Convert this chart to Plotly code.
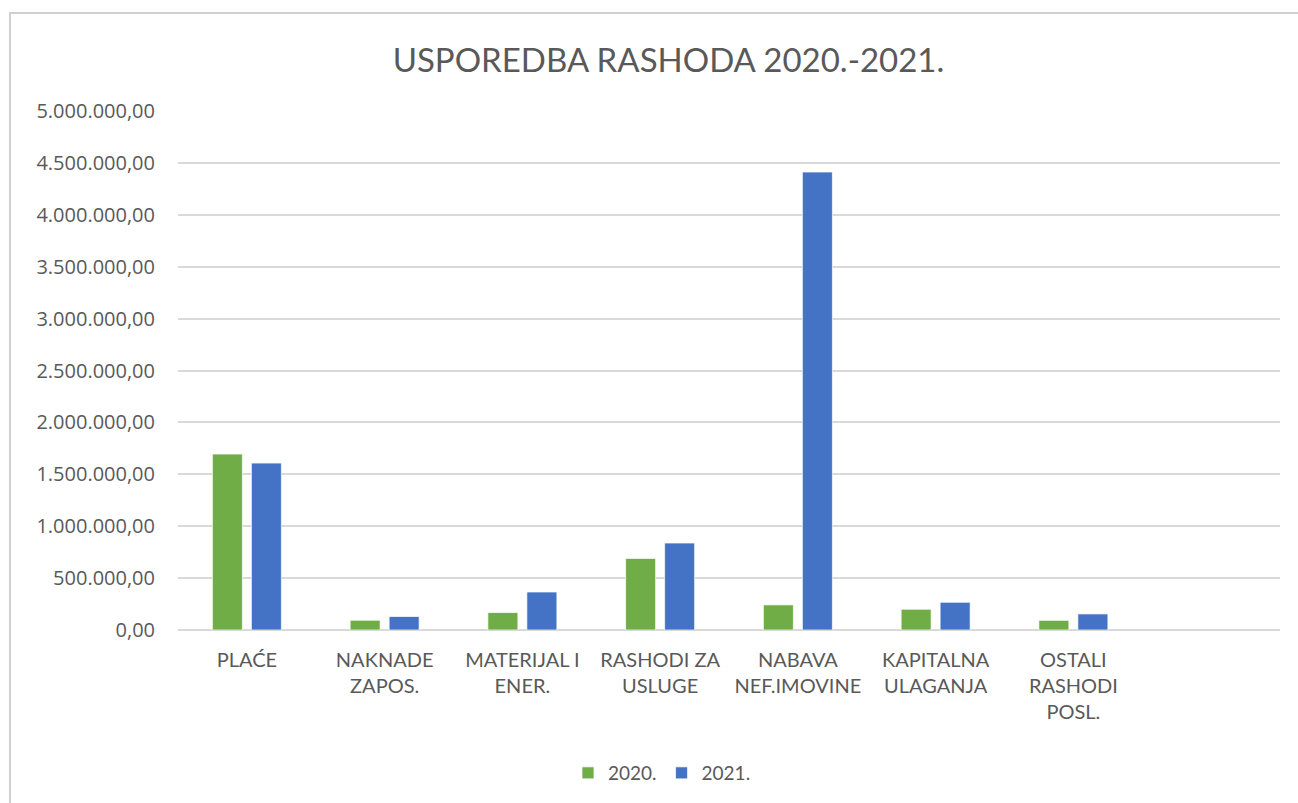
import plotly.graph_objects as go

categories = ["PLAĆE", "NAKNADE<br>ZAPOS.", "MATERIJAL I<br>ENER.", "RASHODI ZA<br>USLUGE",
              "NABAVA<br>NEF.IMOVINE", "KAPITALNA<br>ULAGANJA", "OSTALI<br>RASHODI<br>POSL."]
values_2020 = [1695000, 94000, 168000, 690000, 242000, 200000, 93000]
values_2021 = [1608000, 130000, 366000, 838000, 4412000, 267000, 155000]
series_names = ["2020.", "2021."]
y_ticks = [0, 500000, 1000000, 1500000, 2000000, 2500000, 3000000, 3500000, 4000000, 4500000, 5000000]

W, H = 1298, 803
L, R, T, B = 178, 18, 111, 173
pw = W - L - R
ph = H - T - B

FONT = "Lato"
TICKFONT = "Open Sans"
GREY = "#595959"

fig = go.Figure()
fig.add_trace(go.Bar(x=categories, y=values_2020, name=series_names[0],
                     marker=dict(color="#70AD47", line=dict(color="rgba(255,255,255,0.7)", width=1))))
fig.add_trace(go.Bar(x=categories, y=values_2021, name=series_names[1],
                     marker=dict(color="#4472C4", line=dict(color="rgba(255,255,255,0.7)", width=1))))

def px2paper_x(px):
    return (px - L) / pw

def px2paper_y(py):
    return (H - B - py) / ph

fig.update_layout(
    width=W, height=H,
    margin=dict(l=L, r=R, t=T, b=B, autoexpand=False),
    paper_bgcolor="white", plot_bgcolor="white",
    separators=",.",
    font=dict(family=FONT, color=GREY, size=20),
    title=dict(text="USPOREDBA RASHODA 2020.-2021.", x=0.515, xanchor="center", xref="container",
               y=1 - 60 / H, yanchor="middle", yref="container",
               font=dict(family=FONT, size=33, color=GREY)),
    barmode="group", bargap=0.434, bargroupgap=0.23,
    showlegend=True,
    legend=dict(orientation="h", xref="container", x=0.510, xanchor="center",
                yref="container", y=1 - 773 / H, yanchor="middle",
                font=dict(family=FONT, size=19, color=GREY), itemwidth=30,
                traceorder="normal"),
    xaxis=dict(range=[-0.5, 7.5], showgrid=False, showline=False, ticks="",
               tickfont=dict(family=FONT, size=20, color=GREY), ticklabelstandoff=16,
               fixedrange=True),
    yaxis=dict(range=[0, 5000000], tickvals=y_ticks, tickformat=",.2f",
               showgrid=True, gridcolor="#D9D9D9", gridwidth=2,
               zeroline=True, zerolinecolor="#D9D9D9", zerolinewidth=2,
               showline=False, ticks="", ticklabelstandoff=22,
               tickfont=dict(family=TICKFONT, size=20, color=GREY), fixedrange=True),
    shapes=[dict(type="rect", xref="paper", yref="paper",
                 x0=px2paper_x(10), x1=px2paper_x(1310),
                 y0=px2paper_y(815), y1=px2paper_y(13),
                 line=dict(color="#D0D0D0", width=2), fillcolor="rgba(0,0,0,0)", layer="below")],
)

fig.write_html("out.html", config={"displayModeBar": False},
               post_script="document.body.style.margin='0';document.body.style.overflow='hidden';")
